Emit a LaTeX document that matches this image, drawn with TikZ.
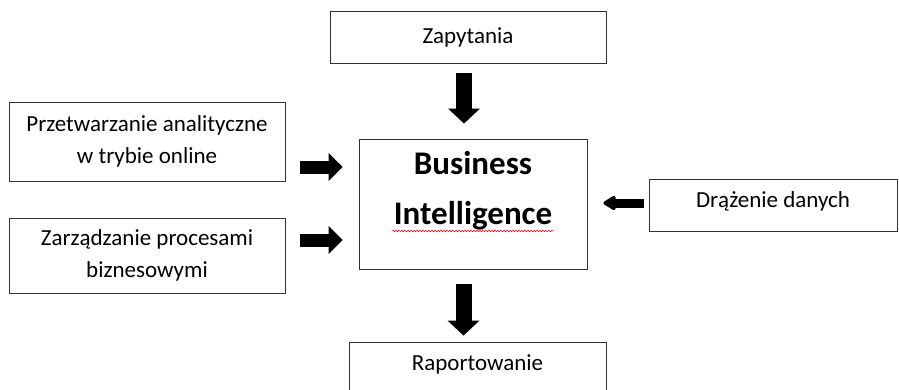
\documentclass[tikz,border=0pt]{standalone}
\usepackage{fontspec}
\setmainfont{Carlito}
\usetikzlibrary{arrows.meta,decorations.pathmorphing}

\tikzset{
  box/.style={draw=black!80,line width=0.8pt,align=center,inner sep=0pt,
    font=\fontsize{23}{32}\selectfont},
  bigarrow/.style={line width=16pt,-{Triangle[width=31pt,length=15pt]}},
  midarrow/.style={line width=13pt,-{Triangle[width=27pt,length=14pt]}},
  smallarrow/.style={line width=9pt,-{Triangle[width=16pt,length=14pt,round]}}
}

\begin{document}
\begin{tikzpicture}[x=1pt,y=-1pt]
					\clip (0,0) rectangle (899,389);
					\begin{scope}[every node/.style={box}]
						\node[minimum width=276pt,minimum height=52pt] (zap) at (468,37) {Zapytania};
						\node[minimum width=276pt,minimum height=79pt] (olap) at (147,141.5) {Przetwarzanie analityczne\\w trybie online};
						\node[minimum width=228pt,minimum height=130pt,text height=70pt,text depth=30pt,
						      font=\bfseries\fontsize{33}{46}\selectfont] (bi) at (473,204) {Business\\[4pt]Intelligence};
						\node[minimum width=276pt,minimum height=75pt] (bpm) at (147,255.5) {Zarządzanie procesami\\biznesowymi};
						\node[minimum width=248pt,minimum height=52pt,text height=18pt,text depth=14pt] (dm) at (773,205) {Drążenie danych};
						\node[minimum width=257pt,minimum height=56pt,text height=14pt,text depth=14pt] (rap) at (477.5,370) {Raportowanie};
					\end{scope}
					
					\draw[red,line width=0.5pt,decorate,decoration={snake,amplitude=0.8pt,segment length=3pt}] (392,231) -- (553,231);
					
					\begin{scope}[every edge/.style={draw=black}]
						\path ([xshift=-4pt]zap.south) edge[bigarrow,shorten <=10pt,shorten >=15pt] ([xshift=-9pt]bi.north);
						\path ([xshift=-9.5pt]bi.south) edge[bigarrow,shorten <=15pt,shorten >=6pt] ([xshift=-14pt]rap.north);
						\path (olap.east |- 0,167) edge[midarrow,shorten <=15pt,shorten >=16pt] (bi.west |- 0,167);
						\path (bpm.east |- 0,240) edge[midarrow,shorten <=15pt,shorten >=16pt] (bi.west |- 0,240);
						\path (dm.west |- 0,203) edge[smallarrow,shorten <=5pt,shorten >=16pt] (bi.east |- 0,203);
					\end{scope}
				\end{tikzpicture}
\end{document}
